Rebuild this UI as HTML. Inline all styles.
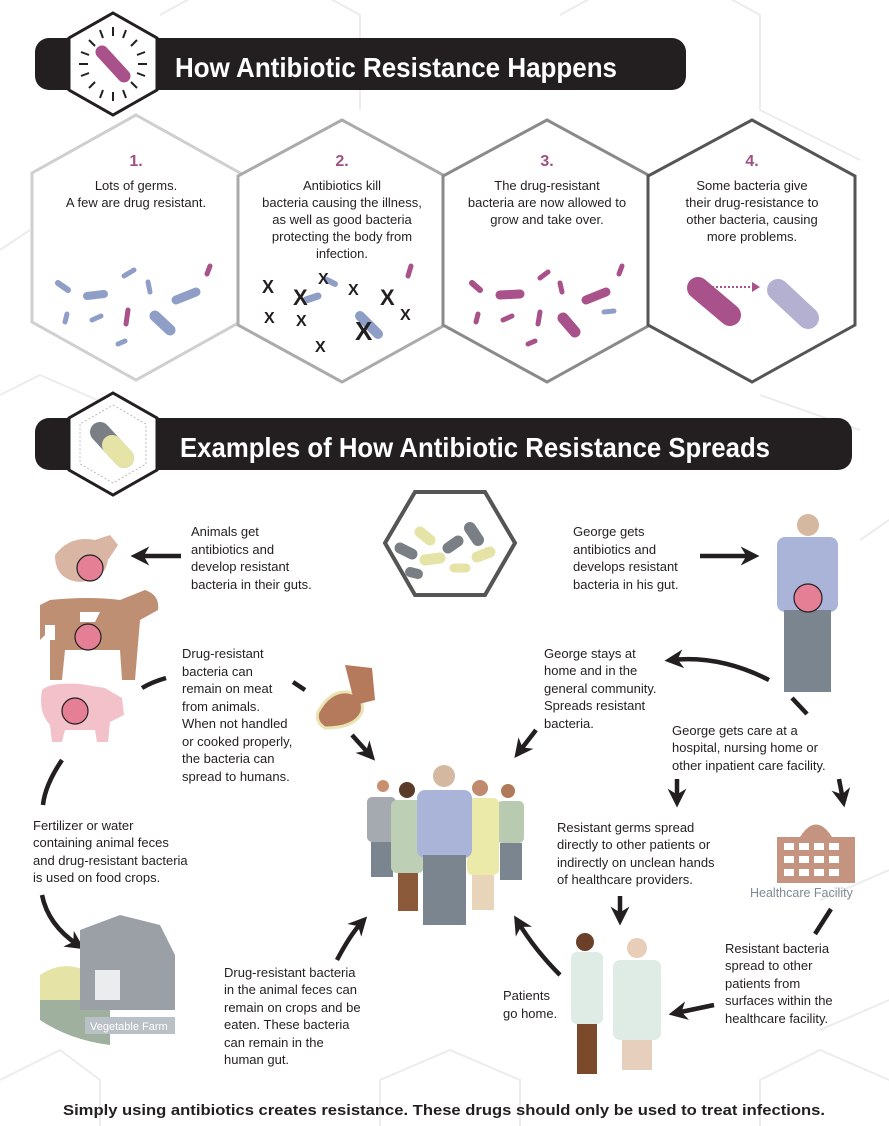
<!DOCTYPE html>
<html><head><meta charset="utf-8"><style>
html,body{margin:0;padding:0;background:#fff;}
svg{display:block;}
text{font-family:"Liberation Sans",sans-serif;fill:#231f20;font-size:13px;}
.h{font-family:"Liberation Sans Narrow","Liberation Sans",sans-serif;font-weight:bold;fill:#fff;font-size:28px;}
.n{fill:#a0517f;font-weight:bold;font-size:16px;}
.c{text-anchor:middle;}
</style></head><body>
<svg width="889" height="1126" viewBox="0 0 889 1126" xmlns="http://www.w3.org/2000/svg">
<defs>
<marker id="a" viewBox="0 0 10 10" refX="6" refY="5" markerWidth="4.2" markerHeight="4.2" orient="auto-start-reverse">
<path d="M0,0 L10,5 L0,10 L3,5 z" fill="#231f20"/></marker>
<linearGradient id="gl" x1="0" x2="1"><stop offset="0" stop-color="#888"/><stop offset="1" stop-color="#444"/></linearGradient>
<linearGradient id="gr" x1="0" x2="1"><stop offset="0" stop-color="#444"/><stop offset="1" stop-color="#888"/></linearGradient>
</defs>
<g fill="none" stroke="#ececec" stroke-width="2">
<path d="M160,15 L260,-40 L360,15 L360,110"/><path d="M560,15 L660,-40 L760,15 L760,110 L860,160"/>
<path d="M0,250 L30,230"/><path d="M0,395 L40,375 L120,410"/><path d="M760,395 L860,430"/>
<path d="M860,540 L889,520"/><path d="M820,900 L889,870"/><path d="M820,1030 L889,1000"/>
<path d="M0,1080 L60,1050 L100,1080 L100,1126"/><path d="M760,1126 L760,1080 L820,1050 L889,1080"/>
<path d="M380,1126 L380,1080 L450,1050 L520,1080 L520,1126"/>
</g>
<rect x="35" y="38" width="651" height="52" rx="14" fill="#231f20"/>
<polygon points="113,13 157,38 157,90 113,115 69,90 69,38" fill="#fff" stroke="#231f20" stroke-width="3"/>
<g stroke="#231f20" stroke-width="2">
<line x1="113" y1="27" x2="113" y2="36"/><line x1="113" y1="92" x2="113" y2="101"/>
<line x1="79" y1="64" x2="88" y2="64"/><line x1="138" y1="64" x2="147" y2="64"/>
<line x1="89" y1="40" x2="95" y2="46"/><line x1="131" y1="82" x2="137" y2="88"/>
<line x1="137" y1="40" x2="131" y2="46"/><line x1="89" y1="88" x2="95" y2="82"/>
<line x1="100" y1="30" x2="103" y2="38"/><line x1="123" y1="90" x2="126" y2="98"/>
<line x1="126" y1="30" x2="123" y2="38"/><line x1="100" y1="98" x2="103" y2="90"/>
<line x1="81" y1="52" x2="89" y2="55"/><line x1="137" y1="73" x2="145" y2="76"/>
<line x1="145" y1="52" x2="137" y2="55"/><line x1="81" y1="76" x2="89" y2="73"/>
</g>
<line x1="102" y1="52" x2="124" y2="76" stroke="#a8518a" stroke-width="13" stroke-linecap="round"/>
<text class="h" x="175" y="77" textLength="442" lengthAdjust="spacingAndGlyphs">How Antibiotic Resistance Happens</text>
<polygon points="136,115 240,173 240,322 136,380 32,322 32,173" fill="#fff" stroke="#cfcfcf" stroke-width="3"/>
<polygon points="342,120 445,176 445,325 342,382 238,325 238,176" fill="#fff" stroke="#ababab" stroke-width="3"/>
<polygon points="547,120 650,176 650,325 547,382 443,325 443,176" fill="#fff" stroke="#8a8a8a" stroke-width="3"/>
<polygon points="752,120 855,176 855,325 752,382 648,325 648,176" fill="#fff" stroke="#555" stroke-width="3"/>
<text class="n c" x="136" y="166">1.</text>
<text class="n c" x="342" y="166">2.</text>
<text class="n c" x="547" y="166">3.</text>
<text class="n c" x="752" y="166">4.</text>
<text class="c" x="136" y="190">Lots of germs.</text><text class="c" x="136" y="207">A few are drug resistant.</text>
<text class="c" x="342" y="190">Antibiotics kill</text><text class="c" x="342" y="207">bacteria causing the illness,</text><text class="c" x="342" y="224">as well as good bacteria</text><text class="c" x="342" y="241">protecting the body from</text><text class="c" x="342" y="258">infection.</text>
<text class="c" x="547" y="190">The drug-resistant</text><text class="c" x="547" y="207">bacteria are now allowed to</text><text class="c" x="547" y="224">grow and take over.</text>
<text class="c" x="752" y="190">Some bacteria give</text><text class="c" x="752" y="207">their drug-resistance to</text><text class="c" x="752" y="224">other bacteria, causing</text><text class="c" x="752" y="241">more problems.</text>
<g stroke-linecap="round" stroke="#8f9ec7">
<line x1="58" y1="283" x2="68" y2="290" stroke-width="6"/><line x1="87" y1="296" x2="104" y2="294" stroke-width="8"/>
<line x1="124" y1="276" x2="134" y2="270" stroke-width="5"/><line x1="148" y1="282" x2="150" y2="292" stroke-width="5"/>
<line x1="176" y1="300" x2="196" y2="292" stroke-width="9"/><line x1="67" y1="314" x2="65" y2="322" stroke-width="5"/>
<line x1="92" y1="320" x2="101" y2="316" stroke-width="5"/><line x1="155" y1="316" x2="170" y2="330" stroke-width="11"/>
<line x1="118" y1="344" x2="125" y2="341" stroke-width="5"/>
</g>
<g stroke-linecap="round" stroke="#a8518a"><line x1="210" y1="266" x2="207" y2="274" stroke-width="5"/><line x1="128" y1="310" x2="126" y2="324" stroke-width="5"/></g>
<g stroke-linecap="round" stroke="#8f9ec7"><line x1="306" y1="300" x2="318" y2="296" stroke-width="7"/><line x1="360" y1="316" x2="378" y2="334" stroke-width="10"/><line x1="327" y1="280" x2="335" y2="284" stroke-width="6"/></g>
<line x1="411" y1="266" x2="408" y2="276" stroke="#a8518a" stroke-width="5" stroke-linecap="round"/>
<g font-weight="bold" fill="#231f20">
<text x="262" y="293" style="font-size:18px">X</text><text x="293" y="305" style="font-size:22px">X</text><text x="318" y="284" style="font-size:16px">X</text>
<text x="348" y="295" style="font-size:16px">X</text><text x="380" y="305" style="font-size:22px">X</text><text x="264" y="323" style="font-size:16px">X</text>
<text x="296" y="326" style="font-size:16px">X</text><text x="355" y="340" style="font-size:26px">X</text><text x="400" y="320" style="font-size:16px">X</text>
<text x="315" y="352" style="font-size:16px">X</text></g>
<g stroke-linecap="round" stroke="#a8518a">
<line x1="472" y1="283" x2="480" y2="290" stroke-width="6"/><line x1="500" y1="295" x2="520" y2="294" stroke-width="9"/>
<line x1="540" y1="278" x2="548" y2="272" stroke-width="5"/><line x1="560" y1="283" x2="562" y2="292" stroke-width="5"/>
<line x1="586" y1="300" x2="606" y2="292" stroke-width="9"/><line x1="478" y1="314" x2="476" y2="322" stroke-width="5"/>
<line x1="503" y1="320" x2="512" y2="316" stroke-width="5"/><line x1="563" y1="318" x2="575" y2="332" stroke-width="11"/>
<line x1="528" y1="344" x2="535" y2="341" stroke-width="5"/><line x1="622" y1="266" x2="619" y2="274" stroke-width="5"/>
<line x1="540" y1="312" x2="538" y2="324" stroke-width="5"/></g>
<line x1="604" y1="312" x2="614" y2="311" stroke="#8f9ec7" stroke-width="5" stroke-linecap="round"/>
<line x1="698" y1="288" x2="730" y2="315" stroke="#a8518a" stroke-width="22" stroke-linecap="round"/>
<line x1="778" y1="290" x2="808" y2="318" stroke="#b3b0d2" stroke-width="22" stroke-linecap="round"/>
<line x1="712" y1="287" x2="752" y2="287" stroke="#a8518a" stroke-width="2" stroke-dasharray="2,2"/>
<path d="M752,282 L760,287 L752,292z" fill="#a8518a"/>
<rect x="35" y="418" width="817" height="52" rx="14" fill="#231f20"/>
<polygon points="113,393 157,418 157,470 113,495 69,470 69,418" fill="#fff" stroke="#231f20" stroke-width="3"/>
<polygon points="113,405 146,424 146,464 113,483 80,464 80,424" fill="none" stroke="#bbb" stroke-width="1" stroke-dasharray="2,2"/>
<line x1="100" y1="432" x2="124" y2="458" stroke="#7a7f85" stroke-width="20" stroke-linecap="round"/>
<line x1="112" y1="445" x2="124" y2="458" stroke="#e6e3a6" stroke-width="20" stroke-linecap="round"/>
<text class="h" x="180" y="457" textLength="590" lengthAdjust="spacingAndGlyphs">Examples of How Antibiotic Resistance Spreads</text>
<line x1="310" y1="553" x2="385" y2="553" stroke="url(#gl)" stroke-width="5"/>
<line x1="515" y1="553" x2="560" y2="553" stroke="url(#gr)" stroke-width="5"/>
<polygon points="415,492 485,492 515,543 485,595 415,595 385,543" fill="#fff" stroke="#555" stroke-width="4"/>
<g stroke-linecap="round">
<line x1="400" y1="548" x2="412" y2="554" stroke="#7a7f85" stroke-width="11"/>
<line x1="420" y1="532" x2="430" y2="540" stroke="#e6e3a6" stroke-width="11"/>
<line x1="425" y1="560" x2="440" y2="558" stroke="#e6e3a6" stroke-width="11"/>
<line x1="448" y1="548" x2="458" y2="541" stroke="#7a7f85" stroke-width="11"/>
<line x1="470" y1="528" x2="478" y2="540" stroke="#7a7f85" stroke-width="12"/>
<line x1="477" y1="557" x2="490" y2="552" stroke="#e6e3a6" stroke-width="11"/>
<line x1="454" y1="568" x2="466" y2="568" stroke="#e6e3a6" stroke-width="9"/>
<line x1="410" y1="572" x2="418" y2="574" stroke="#7a7f85" stroke-width="10"/>
</g>
<g>
<text x="191" y="536">Animals get</text><text x="191" y="554">antibiotics and</text><text x="191" y="571">develop resistant</text><text x="191" y="589">bacteria in their guts.</text>
<text x="573" y="536">George gets</text><text x="573" y="554">antibiotics and</text><text x="573" y="571">develops resistant</text><text x="573" y="589">bacteria in his gut.</text>
<text x="182" y="658">Drug-resistant</text><text x="182" y="676">bacteria can</text><text x="182" y="693">remain on meat</text><text x="182" y="711">from animals.</text><text x="182" y="728">When not handled</text><text x="182" y="746">or cooked properly,</text><text x="182" y="763">the bacteria can</text><text x="182" y="781">spread to humans.</text>
<text x="544" y="658">George stays at</text><text x="544" y="675">home and in the</text><text x="544" y="693">general community.</text><text x="544" y="710">Spreads resistant</text><text x="544" y="728">bacteria.</text>
<text x="672" y="735">George gets care at a</text><text x="672" y="752">hospital, nursing home or</text><text x="672" y="770">other inpatient care facility.</text>
<text x="33" y="830">Fertilizer or water</text><text x="33" y="847">containing animal feces</text><text x="33" y="865">and drug-resistant bacteria</text><text x="33" y="882">is used on food crops.</text>
<text x="557" y="832">Resistant germs spread</text><text x="557" y="849">directly to other patients or</text><text x="557" y="867">indirectly on unclean hands</text><text x="557" y="884">of healthcare providers.</text>
<text x="224" y="977">Drug-resistant bacteria</text><text x="224" y="994">in the animal feces can</text><text x="224" y="1012">remain on crops and be</text><text x="224" y="1029">eaten. These bacteria</text><text x="224" y="1047">can remain in the</text><text x="224" y="1064">human gut.</text>
<text x="503" y="1000">Patients</text><text x="503" y="1018">go home.</text>
<text x="725" y="953">Resistant bacteria</text><text x="725" y="970">spread to other</text><text x="725" y="988">patients from</text><text x="725" y="1005">surfaces within the</text><text x="725" y="1023">healthcare facility.</text>
<text x="750" y="897" style="fill:#7f8a95;font-size:12.5px">Healthcare Facility</text>
</g>
<g fill="none" stroke="#231f20" stroke-width="4.5">
<line x1="181" y1="556" x2="138" y2="556" marker-end="url(#a)"/>
<line x1="700" y1="556" x2="752" y2="556" marker-end="url(#a)"/>
<path d="M142,688 Q152,682 166,678"/>
<path d="M293,682 L305,690"/>
<path d="M352,735 L370,755" marker-end="url(#a)"/>
<path d="M769,680 Q720,655 672,660" marker-end="url(#a)"/>
<path d="M536,730 L519,752" marker-end="url(#a)"/>
<path d="M792,698 L807,714"/>
<line x1="677" y1="779" x2="677" y2="800" marker-end="url(#a)"/>
<line x1="839" y1="779" x2="843" y2="800" marker-end="url(#a)"/>
<line x1="620" y1="896" x2="620" y2="918" marker-end="url(#a)"/>
<path d="M831,909 L815,934"/>
<path d="M714,1005 L676,1013" marker-end="url(#a)"/>
<path d="M560,975 Q535,950 518,922" marker-end="url(#a)"/>
<path d="M62,760 Q45,785 43,805"/>
<path d="M42,895 Q48,925 78,945" marker-end="url(#a)"/>
<path d="M337,960 Q350,935 362,922" marker-end="url(#a)"/>
</g>
<g>
<path d="M55,555 Q70,535 95,540 L110,535 L118,545 L108,560 Q105,580 80,582 Q55,580 55,555z" fill="#d9b6a3"/>
<circle cx="90" cy="568" r="13" fill="#e57f95" stroke="#231f20" stroke-width="1.2"/>
<path d="M40,605 L50,600 Q90,596 120,600 L145,590 Q160,595 158,610 L140,620 L135,680 L122,680 L120,650 L65,650 L62,680 L50,680 L50,630 L40,640z" fill="#bf8f73"/>
<path d="M80,612 L100,612 L95,622 L80,622z M45,625 L55,625 L55,640 L45,640z" fill="#fff"/>
<circle cx="88" cy="637" r="13" fill="#e57f95" stroke="#231f20" stroke-width="1.2"/>
<path d="M42,690 Q50,682 80,684 L105,688 L122,698 L124,715 L110,722 L108,742 L97,742 L95,730 L65,730 L62,742 L52,742 L50,725 Q38,712 42,690z" fill="#f2c1c9"/>
<circle cx="75" cy="711" r="13" fill="#e57f95" stroke="#231f20" stroke-width="1.2"/>
</g>
<path d="M318,712 Q330,690 348,692 Q365,695 362,712 Q355,728 325,728 Q315,722 318,712z" fill="#b57a5c" stroke="#eae3b4" stroke-width="3"/>
<path d="M345,665 L372,668 L375,700 L355,705z" fill="#b57a5c"/>
<!-- central people -->
<g>
<circle cx="383" cy="786" r="6" fill="#c8906e"/><rect x="367" y="797" width="29" height="45" rx="5" fill="#a4aab0"/><rect x="371" y="842" width="22" height="35" fill="#7b8590"/>
<circle cx="508" cy="791" r="7" fill="#b07a5a"/><rect x="497" y="801" width="27" height="42" rx="5" fill="#b8cbb0"/><rect x="500" y="843" width="22" height="37" fill="#7b8590"/>
<circle cx="407" cy="790" r="8" fill="#5a3a28"/><rect x="391" y="800" width="33" height="73" rx="6" fill="#bdd0b6"/><rect x="398" y="873" width="20" height="38" fill="#8a5a3a"/>
<circle cx="480" cy="788" r="8" fill="#c08a6e"/><rect x="467" y="798" width="32" height="77" rx="6" fill="#eceaa8"/><rect x="472" y="875" width="22" height="35" fill="#e8d4b8"/>
<circle cx="444" cy="776" r="11" fill="#d4b8a0"/><rect x="417" y="790" width="55" height="68" rx="8" fill="#a9b4d8"/><rect x="423" y="855" width="43" height="70" fill="#7b8590"/>
</g>
<!-- George -->
<circle cx="808" cy="525" r="11" fill="#d4b8a0"/>
<rect x="777" y="537" width="61" height="75" rx="8" fill="#a9b4d8"/>
<rect x="784" y="610" width="47" height="82" fill="#7b8590"/>
<circle cx="808" cy="598" r="14" fill="#e57f95" stroke="#231f20" stroke-width="1.2"/>
<path d="M777,837 L800,837 Q816,812 832,837 L855,837 L855,883 L777,883z" fill="#c49480"/>
<g fill="#fff"><rect x="784" y="843" width="10" height="7"/><rect x="799" y="843" width="10" height="7"/><rect x="814" y="843" width="10" height="7"/><rect x="829" y="843" width="10" height="7"/><rect x="784" y="856" width="10" height="7"/><rect x="799" y="856" width="10" height="7"/><rect x="814" y="856" width="10" height="7"/><rect x="829" y="856" width="10" height="7"/><rect x="784" y="869" width="10" height="7"/><rect x="799" y="869" width="10" height="7"/><rect x="814" y="869" width="10" height="7"/><rect x="829" y="869" width="10" height="7"/></g>
<circle cx="585" cy="942" r="9" fill="#6a4028"/><rect x="571" y="952" width="32" height="72" rx="6" fill="#dfece6"/><rect x="577" y="1024" width="20" height="50" fill="#7a4a2a"/>
<circle cx="637" cy="948" r="10" fill="#e8cdb8"/><rect x="613" y="960" width="48" height="80" rx="7" fill="#dfece6"/><rect x="622" y="1040" width="30" height="30" fill="#e6cfbd"/>
<path d="M40,975 Q70,955 100,980 L100,1000 L40,1000z" fill="#e6e3a6"/>
<path d="M40,1000 L110,1000 L110,1045 Q70,1040 40,1020z" fill="#9fb09f"/>
<path d="M80,930 L120,915 L160,925 L175,955 L175,1010 L80,1010z" fill="#9aa0a6"/>
<rect x="95" y="970" width="25" height="30" fill="#fff" opacity="0.8"/>
<rect x="85" y="1017" width="90" height="17" fill="#b9c0c6"/>
<text x="90" y="1030" style="fill:#fff;font-size:11px">Vegetable Farm</text>
<text x="63" y="1115" style="font-size:15px;font-weight:bold" textLength="762" lengthAdjust="spacingAndGlyphs">Simply using antibiotics creates resistance.  These drugs should only be used to treat infections.</text>
</svg>
</body></html>
